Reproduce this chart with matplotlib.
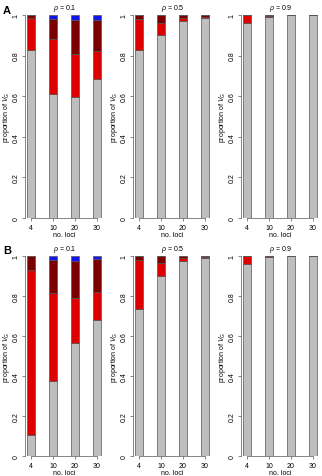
import numpy as np
import matplotlib
matplotlib.use('Agg')
import matplotlib.pyplot as plt

plt.rcParams['font.family'] = ['Liberation Sans', 'DejaVu Sans']
plt.rcParams['mathtext.fontset'] = 'custom'
plt.rcParams['mathtext.rm'] = 'Liberation Sans'
plt.rcParams['mathtext.it'] = 'Liberation Sans:italic'

loci = ['4', '10', '20', '30']
rhos = ['0.1', '0.5', '0.9']

# доли компонент V_G: серый, красный, тёмно-красный, синий (снизу вверх)
a_grey = [[0.826, 0.61, 0.597, 0.684], [0.826, 0.90, 0.969, 0.985], [0.962, 0.992, 0.998, 0.999]]
a_red = [[0.158, 0.274, 0.21, 0.139], [0.156, 0.059, 0.018, 0.005], [0.036, 0.005, 0.001, 0.0]]
a_dark = [[0.016, 0.098, 0.167, 0.152], [0.018, 0.041, 0.013, 0.01], [0.002, 0.003, 0.001, 0.001]]
a_blue = [[0.0, 0.018, 0.026, 0.025], [0.0, 0.0, 0.0, 0.0], [0.0, 0.0, 0.0, 0.0]]

b_grey = [[0.104, 0.373, 0.563, 0.678], [0.734, 0.901, 0.975, 0.988], [0.962, 0.995, 0.999, 0.999]]
b_red = [[0.828, 0.444, 0.229, 0.144], [0.245, 0.066, 0.015, 0.007], [0.036, 0.003, 0.0, 0.0]]
b_dark = [[0.068, 0.162, 0.183, 0.165], [0.021, 0.033, 0.01, 0.005], [0.002, 0.002, 0.001, 0.001]]
b_blue = [[0.0, 0.021, 0.025, 0.013], [0.0, 0.0, 0.0, 0.0], [0.0, 0.0, 0.0, 0.0]]

colors = ['#bebebe', '#dd0000', '#7a0000', '#1414e6']
W, H = 322, 477

fig = plt.figure(figsize=(W / 100, H / 100), dpi=100)

rows = [(a_grey, a_red, a_dark, a_blue), (b_grey, b_red, b_dark, b_blue)]
row_top = [16, 257]
row_h = [203, 200]
lefts = [25, 133, 241]
ax_w = 79

x = np.arange(len(loci))
for r, parts in enumerate(rows):
    for p in range(3):
        ax = fig.add_axes([lefts[p] / W, (H - row_top[r] - row_h[r]) / H, ax_w / W, row_h[r] / H])
        bottom = np.zeros(len(loci))
        for comp, col in zip(parts, colors):
            vals = np.array(comp[p])
            ax.bar(x, vals, width=0.36, bottom=bottom, color=col,
                   edgecolor='#555555', linewidth=0.5)
            bottom += vals
        ax.set_xlim(-0.27, 3.32)
        ax.set_ylim(0, 1)
        for s in ['top', 'right']:
            ax.spines[s].set_visible(False)
        for s in ['left', 'bottom']:
            ax.spines[s].set_linewidth(0.5)
            ax.spines[s].set_color('#555555')
        ax.spines['bottom'].set_bounds(0, 3)
        ax.set_xticks(x)
        ax.set_xticklabels(loci)
        ax.set_yticks([0, 0.2, 0.4, 0.6, 0.8, 1])
        ax.set_yticklabels(['0', '0.2', '0.4', '0.6', '0.8', '1'], rotation=90, va='center')
        ax.tick_params(labelsize=5, length=2.5, width=0.5, pad=1.5, color='#555555')
        ax.set_xlabel('no. loci', fontsize=5, labelpad=0.5)
        ax.set_ylabel('proportion of $V_G$', fontsize=5, labelpad=0.5)
        ax.set_title(r'$\it{\rho}$ = ' + rhos[p], fontsize=5, pad=4)

fig.text(3 / W, 1 - 11 / H, 'A', fontsize=8, fontweight='bold', va='center')
fig.text(3 / W, 1 - 251 / H, 'B', fontsize=8, fontweight='bold', va='center')

plt.savefig('out.png', dpi=100)
